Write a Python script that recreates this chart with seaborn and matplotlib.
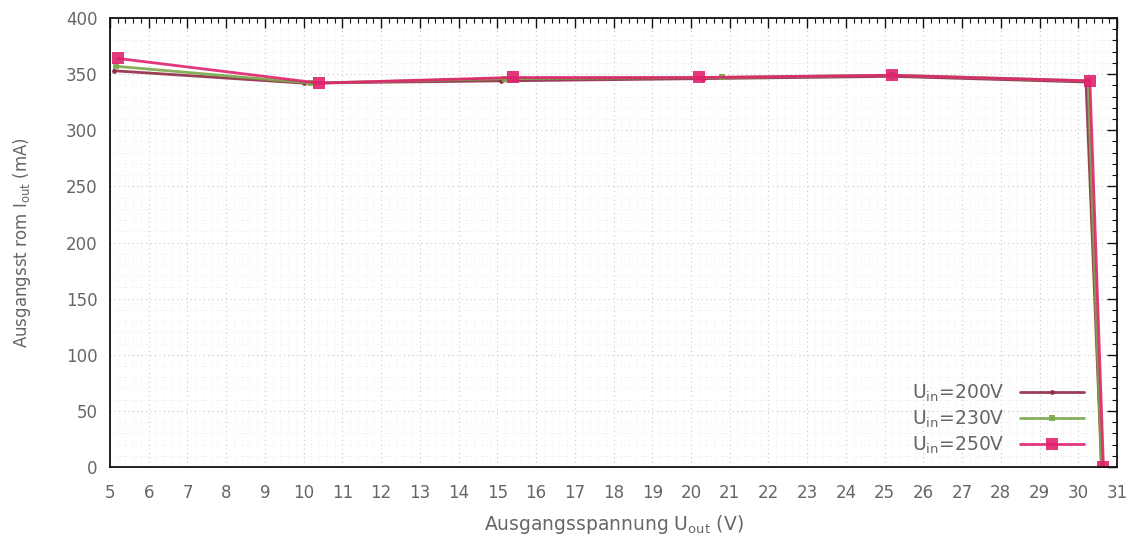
import matplotlib
matplotlib.use("Agg")
import matplotlib.pyplot as plt
from matplotlib.ticker import MultipleLocator
import pandas as pd
import seaborn as sns

# Measured output current vs. output voltage for three input voltages
u_out_200 = [5.1, 10.0, 15.1, 20.3, 25.2, 30.2, 30.6]
i_out_200 = [353, 342, 344, 346, 348, 343, 0]

u_out_230 = [5.15, 10.2, 15.2, 20.8, 25.2, 30.25, 30.6]
i_out_230 = [357, 342, 346, 347, 349, 344, 0]

u_out_250 = [5.2, 10.4, 15.4, 20.2, 25.2, 30.3, 30.65]
i_out_250 = [364, 342, 347, 347, 349, 344, 0]

series_labels = [r"U$_{\mathrm{in}}$=200V", r"U$_{\mathrm{in}}$=230V", r"U$_{\mathrm{in}}$=250V"]

x_label = r"Ausgangsspannung U$_{\mathrm{out}}$ (V)"
y_label = r"Ausgangsst rom I$_{\mathrm{out}}$ (mA)"

sns.set_style("white")
plt.rcParams["font.family"] = ["DejaVu Sans"]
plt.rcParams["mathtext.fontset"] = "dejavusans"

text_gray = "#666666"

fig = plt.figure(figsize=(11.38, 5.4), dpi=100)
ax = fig.add_axes([110 / 1138, 1 - 467 / 540, (1117 - 110) / 1138, (467 - 18) / 540])

styles = [
    (u_out_200, i_out_200, "#8e2a44", "o", 3.5),
    (u_out_230, i_out_230, "#7aa84a", "s", 4.5),
    (u_out_250, i_out_250, "#e0226e", "s", 8),
]
for (xs, ys, color, marker, ms), label in zip(styles, series_labels):
    df = pd.DataFrame({"u": xs, "i": ys})
    sns.lineplot(data=df, x="u", y="i", ax=ax, color=color, marker=marker,
                 markersize=ms, markeredgewidth=0, linewidth=2.0,
                 label=label, sort=False, estimator=None, alpha=0.9)

ax.set_xlim(5, 31)
ax.set_ylim(0, 400)
ax.xaxis.set_major_locator(MultipleLocator(1))
ax.xaxis.set_minor_locator(MultipleLocator(0.2))
ax.yaxis.set_major_locator(MultipleLocator(50))
ax.yaxis.set_minor_locator(MultipleLocator(10))

ax.grid(True, which="major", color="#c8c8c8", linestyle=(0, (1, 3)), linewidth=0.8)
ax.grid(True, which="minor", color="#e6e6e6", linestyle=(0, (1, 3)), linewidth=0.6)
ax.set_axisbelow(True)

for side in ax.spines.values():
    side.set_color("#111111")
    side.set_linewidth(1.3)

ax.tick_params(which="major", direction="in", length=7, width=1.0, top=True, right=True,
               colors="#111111", labelcolor=text_gray, labelsize=12)
ax.tick_params(axis="x", which="major", pad=12)
ax.tick_params(axis="y", which="major", pad=9)
ax.tick_params(which="minor", direction="in", length=3.5, width=0.8, top=True, right=True,
               colors="#111111")

ax.set_xlabel(x_label, fontsize=13.5, color=text_gray, labelpad=8)
ax.set_ylabel(y_label, fontsize=12, color=text_gray, labelpad=24)

leg = ax.legend(loc="lower right", frameon=False, markerfirst=False, fontsize=13.5,
                handlelength=3.4, labelspacing=0.25, borderaxespad=0.2,
                bbox_to_anchor=(0.978, 0.0))
for t in leg.get_texts():
    t.set_color(text_gray)

fig.savefig("out.png", dpi=100)
